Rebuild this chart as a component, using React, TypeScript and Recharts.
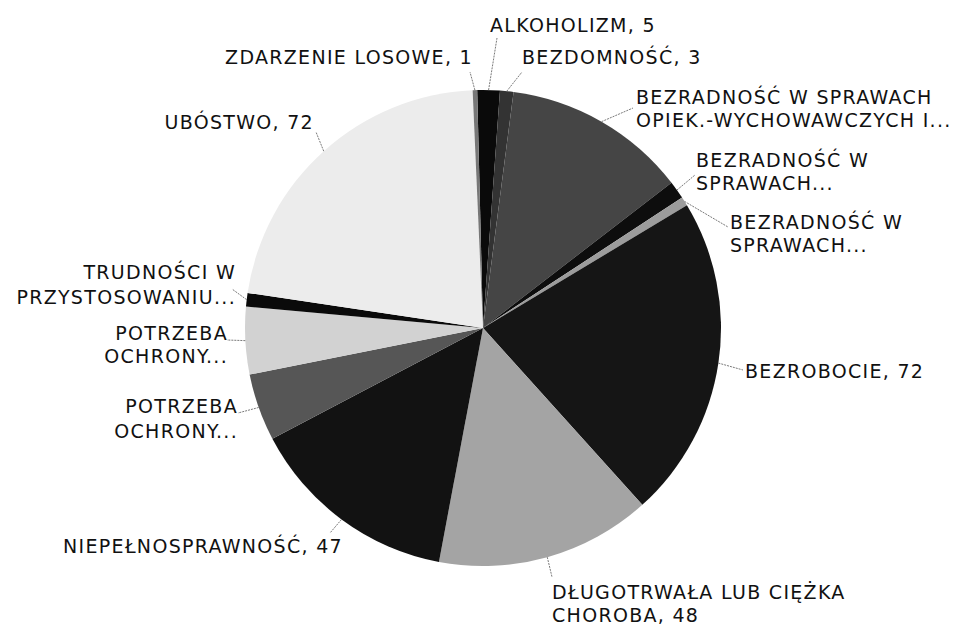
import { PieChart, Pie, Cell } from 'recharts'

// categories as printed on the chart (line breaks as in the picture)
const CATEGORY_LINES: string[][] = [
  ['ALKOHOLIZM'],
  ['BEZDOMNOŚĆ'],
  ['BEZRADNOŚĆ W SPRAWACH', 'OPIEK.-WYCHOWAWCZYCH I...'],
  ['BEZRADNOŚĆ W', 'SPRAWACH...'],
  ['BEZRADNOŚĆ W', 'SPRAWACH...'],
  ['BEZROBOCIE'],
  ['DŁUGOTRWAŁA LUB CIĘŻKA', 'CHOROBA'],
  ['NIEPEŁNOSPRAWNOŚĆ'],
  ['POTRZEBA', 'OCHRONY...'],
  ['POTRZEBA', 'OCHRONY...'],
  ['TRUDNOŚCI W', 'PRZYSTOSOWANIU...'],
  ['UBÓSTWO'],
  ['ZDARZENIE LOSOWE'],
]

const VALUES = [5, 3, 41, 4, 2, 72, 48, 47, 15, 15, 3, 72, 1]

const FILLS = [
  '#0a0a0a', '#333333', '#454545', '#0d0d0d', '#9c9c9c', '#151515',
  '#a4a4a4', '#121212', '#565656', '#d2d2d2', '#0a0a0a', '#ececec', '#777777',
]

// label layout, offsets from the pie centre: text x / first line y, leader end
const LABEL_LAYOUT = [
  { tx: 7, ty: -303.5, anchor: 'start', lx: 14, ly: -290, gap: 22 },
  { tx: 39, ty: -271, anchor: 'start', lx: 39, ly: -256, gap: 22 },
  { tx: 153, ty: -231, anchor: 'start', lx: 150, ly: -220, gap: 22.5 },
  { tx: 213, ty: -168, anchor: 'start', lx: 212, ly: -153, gap: 22.5 },
  { tx: 247, ty: -106, anchor: 'start', lx: 245, ly: -101, gap: 22.5 },
  { tx: 262, ty: 43, anchor: 'start', lx: 260, ly: 42, gap: 22 },
  { tx: 69, ty: 264, anchor: 'start', lx: 69, ly: 249, gap: 22.5 },
  { tx: -140, ty: 217.5, anchor: 'end', lx: -153, ly: 205, gap: 22 },
  { tx: -245, ty: 77.5, anchor: 'end', lx: -245, ly: 85, gap: 25 },
  { tx: -255, ty: 4.5, anchor: 'end', lx: -256, ly: 12, gap: 23 },
  { tx: -247, ty: -56.5, anchor: 'end', lx: -251, ly: -39, gap: 25 },
  { tx: -169, ty: -206.5, anchor: 'end', lx: -167, ly: -196, gap: 22 },
  { tx: -10, ty: -271.5, anchor: 'end', lx: -13, ly: -256, gap: 22 },
]

const data = VALUES.map((value, i) => ({ name: CATEGORY_LINES[i].join(' '), value }))

const RADIAN = Math.PI / 180

function labelLines(i: number) {
  const lines = [...CATEGORY_LINES[i]]
  const last = lines[lines.length - 1]
  if (!last.endsWith('...')) lines[lines.length - 1] = `${last}, ${VALUES[i]}`
  return lines
}

function renderLabel(props: any) {
  const { cx, cy, midAngle, outerRadius, index } = props
  const l = LABEL_LAYOUT[index]
  const sx = cx + outerRadius * Math.cos(-midAngle * RADIAN)
  const sy = cy + outerRadius * Math.sin(-midAngle * RADIAN)
  return (
    <g key={`lbl-${index}`}>
      <line
        x1={sx} y1={sy} x2={cx + l.lx} y2={cy + l.ly}
        stroke="#7a7a7a" strokeWidth={1} strokeDasharray="2 1"
      />
      <text
        x={cx + l.tx}
        textAnchor={l.anchor}
        fill="#111"
        fontSize={19}
        letterSpacing={1.3}
        fontFamily="'DejaVu Sans', sans-serif"
      >
        {labelLines(index).map((t, k) => (
          <tspan key={k} x={cx + l.tx} y={cy + l.ty + 7 + k * l.gap}>{t}</tspan>
        ))}
      </text>
    </g>
  )
}

export default function App() {
  return (
    <div style={{ position: 'absolute', left: 0, top: 0, width: 964, height: 626, background: '#fff' }}>
      <PieChart width={964} height={626} margin={{ top: 0, right: 0, bottom: 0, left: 0 }}>
        <Pie
          data={data}
          dataKey="value"
          nameKey="name"
          cx={483}
          cy={328}
          outerRadius={238}
          startAngle={91.4}
          endAngle={-268.6}
          stroke="none"
          label={renderLabel}
          labelLine={false}
          isAnimationActive={false}
        >
          {data.map((d, i) => (
            <Cell key={d.name + i} fill={FILLS[i]} />
          ))}
        </Pie>
      </PieChart>
    </div>
  )
}
